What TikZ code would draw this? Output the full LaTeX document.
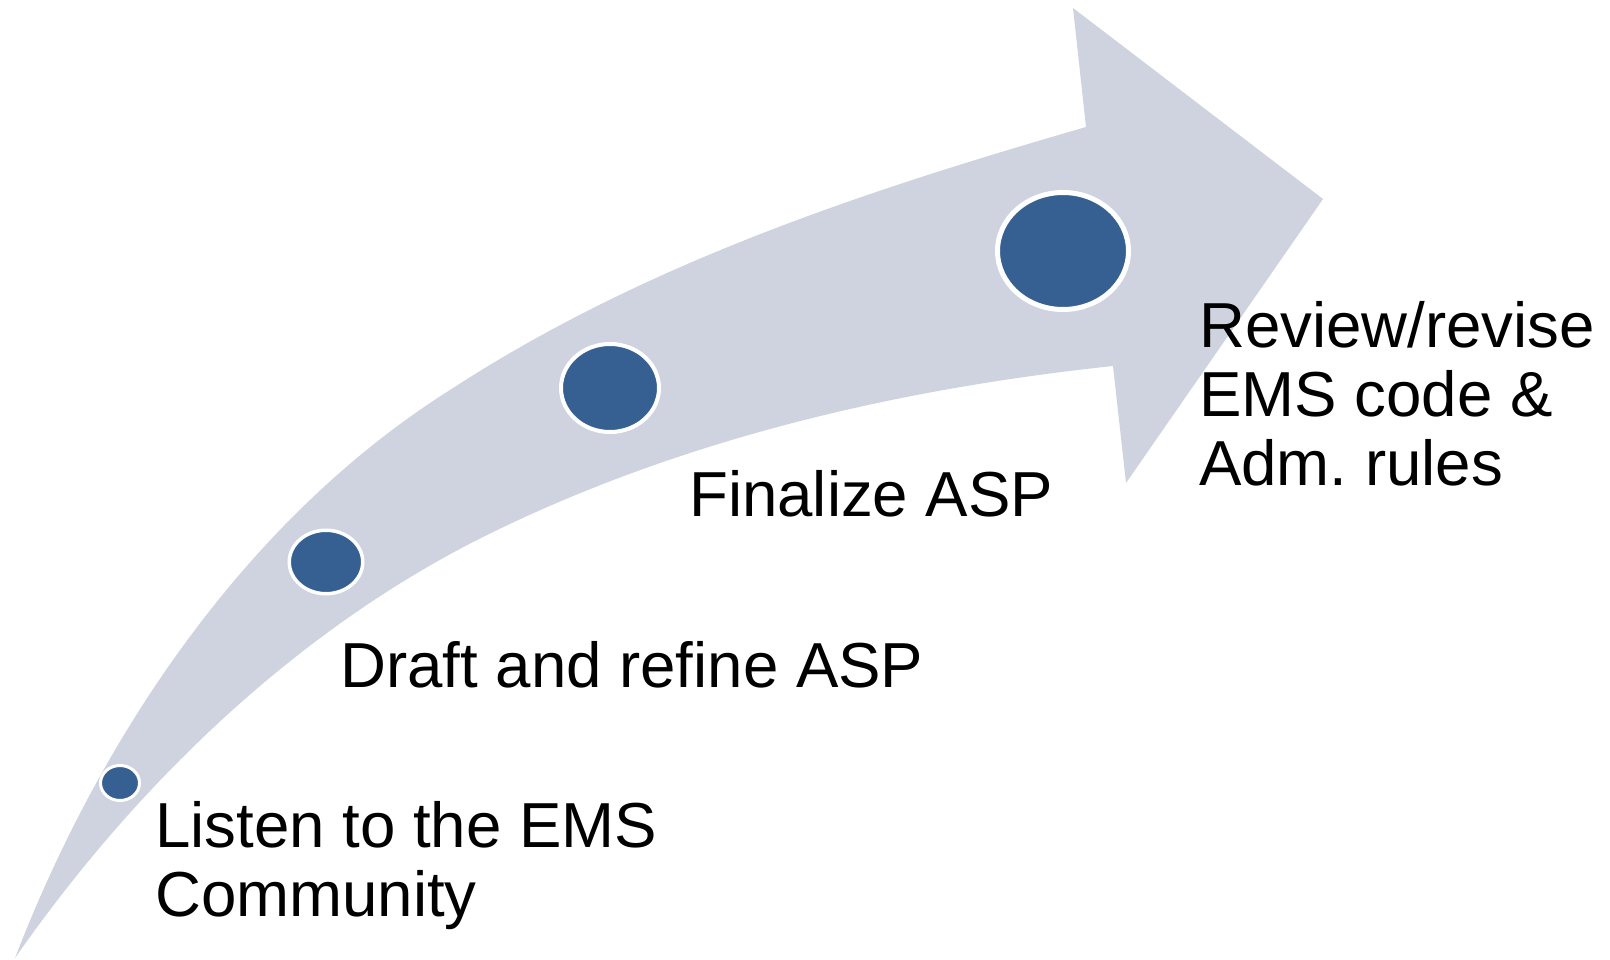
\documentclass[tikz,border=0pt]{standalone}
\usepackage{fontspec}
\setmainfont{Liberation Sans}
\usetikzlibrary{shapes.geometric}
\definecolor{bandfill}{RGB}{206,211,223}
\definecolor{dotfill}{RGB}{54,96,146}
\frenchspacing
\begin{document}
\begin{tikzpicture}[x=1pt,y=-1pt,
  dot/.style={ellipse,fill=dotfill,draw=white,inner sep=0pt},
  lbl/.style={anchor=base west,inner sep=0pt,align=left,font=\fontsize{63.6}{69}\selectfont}]
\useasboundingbox (0,0) rectangle (1610,960);
% curved arrow band
\fill[bandfill] (15,958)
  .. controls (101,735) and (247,518) .. (450,390)
  .. controls (645,263) and (865,191) .. (1086,127)
  -- (1073,8) -- (1323,199) -- (1126,483) -- (1113,366)
  .. controls (896,389) and (678,440) .. (483,537)
  .. controls (295,631) and (135,786) .. (15,958)
  -- cycle;
% milestones
\node[dot,line width=3pt,minimum width=39pt,minimum height=35pt] (c1) at (120,783) {};
\node[dot,line width=3.5pt,minimum width=73.5pt,minimum height=63.5pt] (c2) at (326,562) {};
\node[dot,line width=4pt,minimum width=98pt,minimum height=88pt] (c3) at (610,388) {};
\node[dot,line width=5pt,minimum width=131pt,minimum height=117pt] (c4) at (1063,251) {};
% labels (base anchor = baseline of last line)
\node[lbl] (t1) at (155,916) {Listen to the EMS\\Community};
\node[lbl] (t2) at (340,687) {Draft and refine ASP};
\node[lbl] (t3) at (689,516) {Finalize ASP};
\node[lbl] (t4) at (1199,485) {Review/revise\\EMS code \&\\Adm.\ rules};
\end{tikzpicture}
\end{document}
